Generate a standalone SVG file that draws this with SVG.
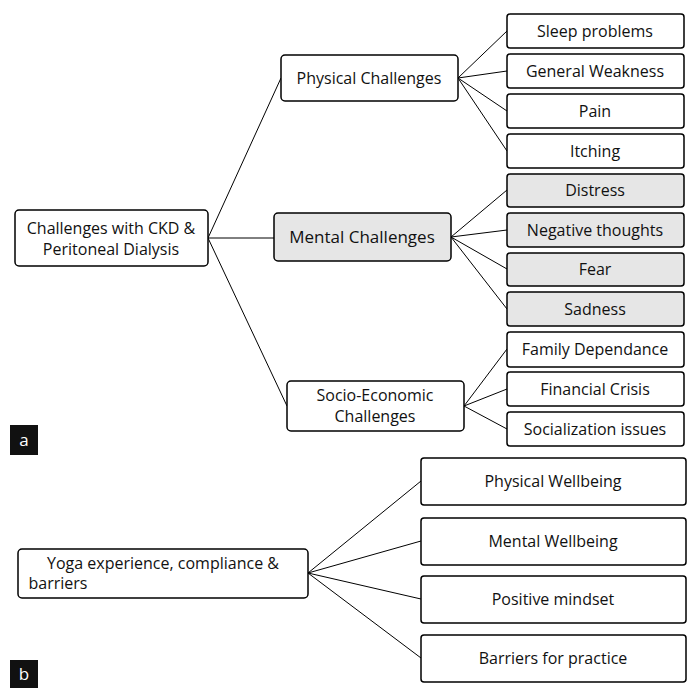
<svg xmlns="http://www.w3.org/2000/svg" width="693" height="697" viewBox="0 0 693 697">
<style>
.n rect{fill:#fff;stroke:#000;stroke-width:1.5}
.g rect{fill:#e6e6e6}
text{font-family:"Open Sans","Liberation Sans",sans-serif;font-size:16px;fill:#111;text-anchor:middle}
#connectors line{stroke:#000;stroke-width:1}
.lab rect{fill:#111;stroke:none}
.lab text{fill:#fff;font-size:17px}
</style>
<rect width="693" height="697" fill="#fff"/>
<g id="connectors">
<line x1="208" y1="238" x2="281" y2="78"/>
<line x1="208" y1="238" x2="274" y2="238"/>
<line x1="208" y1="238" x2="287" y2="406"/>
<line x1="458" y1="78" x2="507" y2="31"/>
<line x1="458" y1="78" x2="507" y2="71"/>
<line x1="458" y1="78" x2="507" y2="111"/>
<line x1="458" y1="78" x2="507" y2="151"/>
<line x1="451" y1="237" x2="507" y2="190"/>
<line x1="451" y1="237" x2="507" y2="230"/>
<line x1="451" y1="237" x2="507" y2="269"/>
<line x1="451" y1="237" x2="507" y2="309"/>
<line x1="464" y1="406" x2="507" y2="349"/>
<line x1="464" y1="406" x2="507" y2="389"/>
<line x1="464" y1="406" x2="507" y2="429"/>
<line x1="308" y1="573" x2="421" y2="481"/>
<line x1="308" y1="573" x2="421" y2="541"/>
<line x1="308" y1="573" x2="421" y2="599"/>
<line x1="308" y1="573" x2="421" y2="658"/>
</g>
<g id="root" class="n"><rect x="15" y="210" width="193" height="56" rx="4"/><text x="111" y="234">Challenges with CKD &amp;</text><text x="111" y="255">Peritoneal Dialysis</text></g>
<g id="physical" class="n"><rect x="281" y="55" width="177" height="46" rx="4"/><text x="369" y="84">Physical Challenges</text></g>
<g id="mental" class="n g"><rect x="274" y="213" width="177" height="48" rx="4"/><text x="362" y="243" style="font-size:17px">Mental Challenges</text></g>
<g id="socio" class="n"><rect x="287" y="381" width="177" height="50" rx="4"/><text x="375" y="401">Socio-Economic</text><text x="375" y="422">Challenges</text></g>
<g id="sleep" class="n"><rect x="507" y="14" width="177" height="34" rx="3"/><text x="595" y="37">Sleep problems</text></g>
<g id="weak" class="n"><rect x="507" y="54" width="177" height="34" rx="3"/><text x="595" y="77">General Weakness</text></g>
<g id="pain" class="n"><rect x="507" y="94" width="177" height="34" rx="3"/><text x="595" y="117">Pain</text></g>
<g id="itch" class="n"><rect x="507" y="134" width="177" height="34" rx="3"/><text x="595" y="157">Itching</text></g>
<g id="distress" class="n g"><rect x="507" y="174" width="177" height="33" rx="3"/><text x="595" y="196">Distress</text></g>
<g id="neg" class="n g"><rect x="507" y="213" width="177" height="34" rx="3"/><text x="595" y="236">Negative thoughts</text></g>
<g id="fear" class="n g"><rect x="507" y="253" width="177" height="33" rx="3"/><text x="595" y="275">Fear</text></g>
<g id="sad" class="n g"><rect x="507" y="292" width="177" height="34" rx="3"/><text x="595" y="315">Sadness</text></g>
<g id="family" class="n"><rect x="507" y="332" width="177" height="35" rx="3"/><text x="595" y="355">Family Dependance</text></g>
<g id="fin" class="n"><rect x="507" y="372" width="177" height="34" rx="3"/><text x="595" y="395">Financial Crisis</text></g>
<g id="social" class="n"><rect x="507" y="412" width="177" height="34" rx="3"/><text x="595" y="435">Socialization issues</text></g>
<g id="labela" class="lab"><rect x="10" y="425" width="28" height="30"/><text x="24" y="446">a</text></g>
<g id="yoga" class="n"><rect x="18" y="549" width="290" height="49" rx="4"/><text x="163" y="569">Yoga experience, compliance &amp;</text><text x="58" y="589">barriers</text></g>
<g id="pw" class="n"><rect x="421" y="458" width="265" height="47" rx="3"/><text x="553" y="487">Physical Wellbeing</text></g>
<g id="mw" class="n"><rect x="421" y="518" width="265" height="47" rx="3"/><text x="553" y="547">Mental Wellbeing</text></g>
<g id="pm" class="n"><rect x="421" y="576" width="265" height="47" rx="3"/><text x="553" y="605">Positive mindset</text></g>
<g id="bp" class="n"><rect x="421" y="635" width="265" height="47" rx="3"/><text x="553" y="664">Barriers for practice</text></g>
<g id="labelb" class="lab"><rect x="10" y="660" width="28" height="28"/><text x="24" y="680">b</text></g>
</svg>
